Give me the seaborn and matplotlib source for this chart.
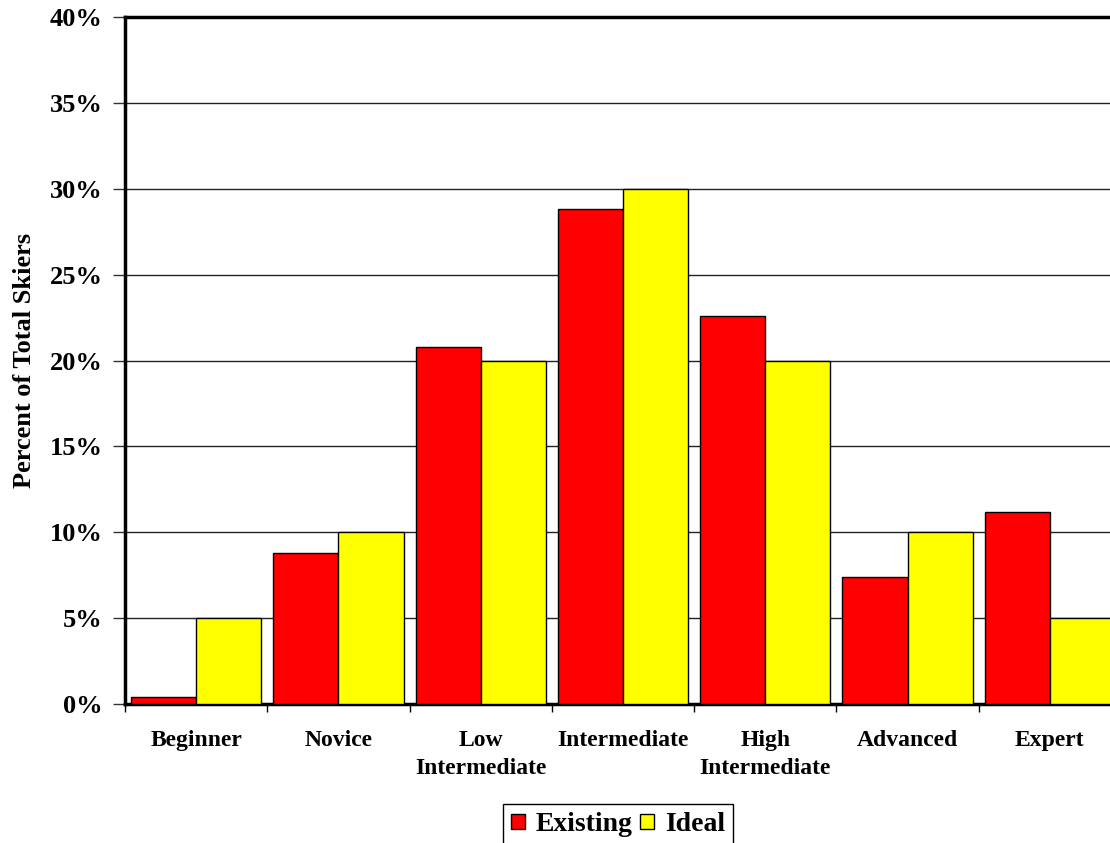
import matplotlib
matplotlib.use("Agg")
import matplotlib.pyplot as plt
import seaborn as sns
import pandas as pd
from matplotlib.ticker import FixedLocator, FuncFormatter

categories = ["Beginner", "Novice", "Low\nIntermediate", "Intermediate",
              "High\nIntermediate", "Advanced", "Expert"]
existing = [0.4, 8.8, 20.8, 28.8, 22.6, 7.4, 11.2]
ideal = [5, 10, 20, 30, 20, 10, 5]
series = ["Existing", "Ideal"]
colors = ["#FF0000", "#FFFF00"]
yticks = [0, 5, 10, 15, 20, 25, 30, 35, 40]

df = pd.DataFrame({
    "category": categories * 2,
    "series": [series[0]] * len(categories) + [series[1]] * len(categories),
    "value": existing + ideal,
})

sns.set_style("white")
plt.rcParams["font.family"] = ["Liberation Serif", "DejaVu Serif"]
plt.rcParams["font.weight"] = "bold"
plt.rcParams["text.color"] = "black"
plt.rcParams["axes.labelcolor"] = "black"
plt.rcParams["xtick.color"] = "black"
plt.rcParams["ytick.color"] = "black"

fig = plt.figure(figsize=(11.10, 8.43), dpi=100)
ax = fig.add_axes([125 / 1110, (843 - 704) / 843, 996 / 1110, 687 / 843])

sns.barplot(data=df, x="category", y="value", hue="series", order=categories,
            hue_order=series, palette=colors, width=0.915, edgecolor="black",
            linewidth=1.0, saturation=1, ax=ax, legend=False, zorder=3)

ax.set_xlim(-0.5, len(categories) - 0.5)
ax.set_ylim(0, 40)
ax.set_yticks(yticks)
ax.yaxis.set_major_formatter(FuncFormatter(lambda v, p: f"{v:.0f}%"))
ax.grid(axis="y", color="#222222", linewidth=1.0, zorder=0)
ax.grid(axis="x", visible=False)
ax.set_axisbelow(True)

ax.tick_params(axis="y", which="major", direction="out", length=9, width=1,
               pad=7, labelsize=19, left=True, labelcolor="black", color="#333333")
for lab in ax.get_yticklabels():
    lab.set_fontweight("bold")

ax.set_xticks(range(len(categories)))
ax.set_xticklabels(categories, fontsize=17, fontweight="bold", linespacing=1.4,
                   color="black")
ax.tick_params(axis="x", which="major", length=0, pad=19)
ax.xaxis.set_minor_locator(FixedLocator([i - 0.5 for i in range(len(categories) + 1)]))
ax.tick_params(axis="x", which="minor", direction="out", length=6, width=1,
               bottom=True, color="black")
ax.set_xlabel("")
ax.set_ylabel("Percent of Total Skiers", fontsize=19, fontweight="bold",
              labelpad=10, color="black")

for side in ["top", "left", "bottom"]:
    ax.spines[side].set_visible(True)
    ax.spines[side].set_linewidth(2.5)
    ax.spines[side].set_color("black")
ax.spines["right"].set_visible(False)

handles = [plt.Rectangle((0, 0), 1, 1, facecolor=c, edgecolor="black", linewidth=1)
           for c in colors]
leg = fig.legend(handles, series, loc="upper center",
                 bbox_to_anchor=(618 / 1110, 1 - 804 / 843), ncol=2,
                 frameon=True, fancybox=False, framealpha=1, edgecolor="black",
                 prop={"family": "Liberation Serif", "weight": "bold", "size": 20},
                 handlelength=0.5, handleheight=0.5, handletextpad=0.4,
                 columnspacing=0.25, borderpad=0.3, borderaxespad=0)
leg.get_frame().set_linewidth(1.0)
for t in leg.get_texts():
    t.set_color("black")

fig.savefig("out.png", dpi=100)
